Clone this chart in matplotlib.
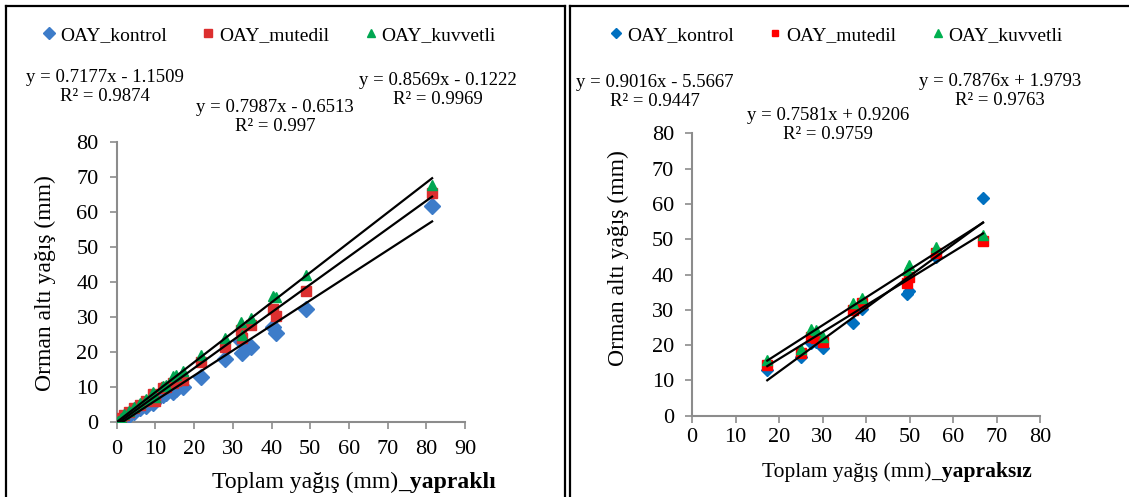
import numpy as np
import matplotlib.pyplot as plt
from matplotlib.lines import Line2D

plt.rcParams['font.family'] = ['Liberation Serif', 'DejaVu Serif']

# yaprakli (leafed period)
x_yaprakli = [0.3, 1.0, 2.0, 3.3, 4.5, 6.0, 7.5, 9.3, 9.8, 12.0, 12.8, 14.5,
              15.3, 17.2, 21.9, 28.1, 32.0, 32.4, 34.7, 40.3, 41.2, 48.9, 81.5]
kontrol_yaprakli = [0.0, 0.4, 1.0, 2.0, 2.8, 3.8, 4.6, 5.4, 6.2, 7.6, 8.2, 8.6,
                    9.4, 10.0, 12.9, 17.9, 23.0, 19.6, 21.4, 27.2, 25.3, 32.2, 61.8]
mutedil_yaprakli = [0.5, 1.2, 2.0, 2.8, 3.8, 4.8, 5.8, 7.8, 5.8, 9.6, 10.0, 11.0,
                    11.6, 11.9, 17.2, 21.5, 26.3, 23.9, 27.7, 32.3, 30.3, 37.3, 65.4]
kuvvetli_yaprakli = [0.2, 1.0, 2.2, 3.0, 4.2, 5.3, 6.4, 8.6, 7.0, 10.2, 10.6, 13.0,
                     13.4, 14.5, 19.2, 24.1, 28.6, 24.8, 29.6, 36.1, 35.6, 42.0, 67.8]
fit_yaprakli = [(0.7177, -1.1509, 0.9874), (0.7987, -0.6513, 0.997), (0.8569, -0.1222, 0.9969)]

# yapraksiz (leafless period)
x_yapraksiz = [17.3, 25.0, 27.4, 28.6, 30.2, 37.1, 39.1, 49.5, 49.8, 56.0, 66.9]
kontrol_yapraksiz = [12.9, 16.7, 20.5, 20.9, 19.3, 26.2, 30.1, 34.6, 35.4, 45.0, 61.6]
mutedil_yapraksiz = [14.4, 17.9, 22.4, 21.9, 20.8, 29.9, 31.8, 37.5, 39.3, 46.0, 49.6]
kuvvetli_yapraksiz = [15.8, 18.8, 24.7, 24.3, 22.4, 32.0, 33.4, 41.3, 42.7, 47.9, 51.2]
fit_yapraksiz = [(0.9016, -5.5667, 0.9447), (0.7581, 0.9206, 0.9759), (0.7876, 1.9793, 0.9763)]

labels = ['OAY_kontrol', 'OAY_mutedil', 'OAY_kuvvetli']
markers = ['D', 's', '^']

W, H = 1129, 497
fig = plt.figure(figsize=(W / 100, H / 100), dpi=100)


def fx(px):
    return px / W


def fy(py):
    return 1 - py / H


def eq_text(a, b, r2):
    sign = '-' if b < 0 else '+'
    return 'y = %.4fx %s %.4f\nR² = %s' % (a, sign, abs(b), ('%.4f' % r2).rstrip('0'))


def panel(rect, x, ys, fits, colors, sizes, xmax, xpad, eq_pos, leg_center, ylab_pos, xlab_pos,
          suffix, xlab_size):
    ax = fig.add_axes(rect)
    for y, c, m, s, lab in zip(ys, colors, markers, sizes, labels):
        ax.plot(x, y, linestyle='none', marker=m, ms=s, color=c, mec=c, label=lab, zorder=3)
    xs = np.array([min(x), max(x)])
    for a, b, r2 in fits:
        ax.plot(xs, a * xs + b, color='black', lw=1.6, zorder=4)
    ax.set_xlim(0, xmax)
    ax.set_ylim(0, 80)
    ax.set_xticks(np.arange(0, xmax + 1, 10))
    ax.set_yticks(np.arange(0, 81, 10))
    for sp in ['top', 'right']:
        ax.spines[sp].set_visible(False)
    for sp in ['left', 'bottom']:
        ax.spines[sp].set_color('#8c8c8c')
        ax.spines[sp].set_linewidth(1.5)
    ax.tick_params(colors='#8c8c8c', labelcolor='black', labelsize=16, length=5, width=1.2)
    ax.tick_params(axis='y', pad=8)
    ax.tick_params(axis='x', pad=xpad)
    for (px, py), (a, b, r2) in zip(eq_pos, fits):
        fig.text(fx(px), fy(py), eq_text(a, b, r2), ha='center', va='center',
                 fontsize=13.5, linespacing=1.1)
    leg_handles = [Line2D([], [], linestyle='none', marker=m, ms=s * 0.75, color=c)
                   for m, s, c in zip(markers, sizes, colors)]
    fig.legend(leg_handles, labels, loc='center', bbox_to_anchor=(fx(leg_center[0]), fy(leg_center[1])),
               ncol=3, frameon=False, fontsize=14, handlelength=0.7, handletextpad=0.2,
               columnspacing=1.8)
    fig.text(fx(ylab_pos[0]), fy(ylab_pos[1]), 'Orman altı yağış (mm)', rotation=90,
             ha='center', va='center', fontsize=17)
    t1 = fig.text(fx(xlab_pos[0]), fy(xlab_pos[1]), 'Toplam yağış (mm)', ha='left',
                  va='baseline', fontsize=xlab_size)
    t2 = fig.text(fx(xlab_pos[0]), fy(xlab_pos[1]), suffix, fontsize=xlab_size, fontweight='bold',
                  va='baseline', ha='left')
    return ax, t1, t2


ax1, a1, b1 = panel([fx(116.7), fy(421.7), fx(465 - 116.7), (421.7 - 142.3) / H],
                    x_yaprakli, [kontrol_yaprakli, mutedil_yaprakli, kuvvetli_yaprakli],
                    fit_yaprakli, ['#3d7cc9', '#dc2f2f', '#00a651'], [8, 7, 7.5], 90, 8,
                    [(105, 87), (275, 117), (438, 90)], (269, 35), (45, 283), (212, 488),
                    '_yapraklı', 17)

ax2, a2, b2 = panel([fx(692), fy(415.7), fx(1040 - 692), (415.7 - 133.3) / H],
                    x_yapraksiz, [kontrol_yapraksiz, mutedil_yapraksiz, kuvvetli_yapraksiz],
                    fit_yapraksiz, ['#0070c0', '#ff0000', '#00b050'], [6.5, 6.5, 7], 80, 4,
                    [(655, 92), (828, 125), (1000, 91)], (836, 35), (618, 258), (762, 477),
                    '_yapraksız', 15.5)

# put the bold suffix right after the regular text
fig.canvas.draw()
r = fig.canvas.get_renderer()
for reg, bold in [(a1, b1), (a2, b2)]:
    bb = reg.get_window_extent(r)
    bold.set_position((bb.x1 / W, reg.get_position()[1]))

# panel borders
for xs_, ys_ in [([6, 565], [6, 6]), ([6, 6], [6, 497]), ([565, 565], [6, 497]),
                 ([570, 570], [6, 497]), ([570, 1129], [6, 6])]:
    fig.add_artist(Line2D([fx(v) for v in xs_], [fy(v) for v in ys_], color='black', lw=1.6))

fig.savefig('out.png', dpi=100)
